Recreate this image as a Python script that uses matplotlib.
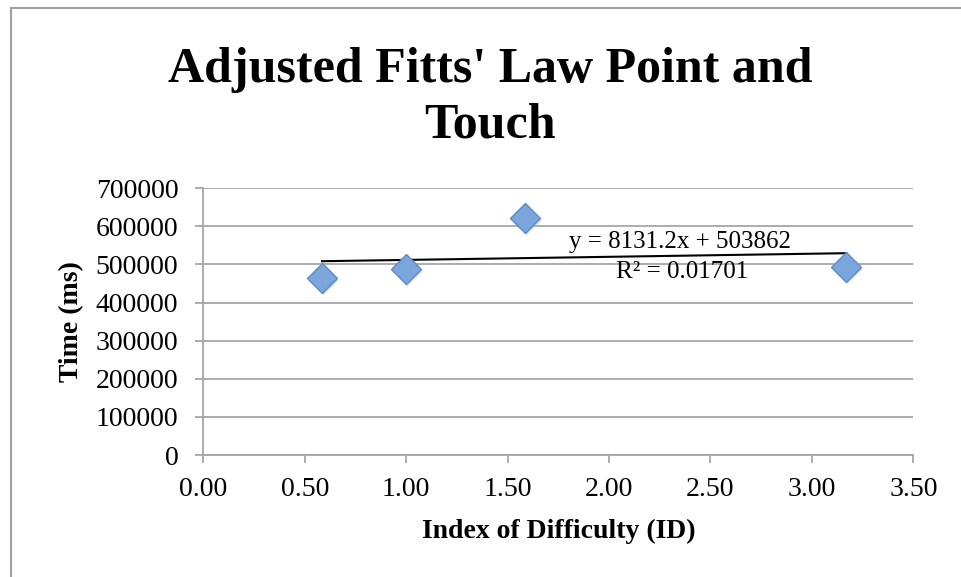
"""Adjusted Fitts' Law scatter with linear trendline (Excel-style)."""

import matplotlib

matplotlib.use("Agg")
import matplotlib.pyplot as plt
import matplotlib.transforms as mtransforms
import numpy as np
from matplotlib.lines import Line2D
from matplotlib.ticker import FormatStrFormatter, MultipleLocator

# Data
id_values = [0.585, 1.0, 1.585, 3.17]
time_ms = [465000, 488000, 621000, 493000]
trend_slope = 8131.2
trend_intercept = 503862
r_squared = "0.01701"

title = "Adjusted Fitts' Law Point and\nTouch"
x_label = "Index of Difficulty (ID)"
y_label = "Time (ms)"

SERIF = "Liberation Serif"
GRID = "#a6a6a6"

plt.rcParams["font.family"] = [SERIF, "DejaVu Serif"]

fig = plt.figure(figsize=(9.61, 5.77), dpi=100)
ax = fig.add_axes([0.2116, 0.2114, 0.7388, 0.4623])

# Chart frame (only left and top edges are visible in the crop)
fig.add_artist(Line2D([0.0114, 0.0114], [0, 0.987], transform=fig.transFigure,
                      color="#a0a0a0", lw=1.5))
fig.add_artist(Line2D([0.0114, 1.0], [0.987, 0.987], transform=fig.transFigure,
                      color="#a0a0a0", lw=1.5))

# Trendline over the data range
xs = np.array([min(id_values), max(id_values)])
ax.plot(xs, trend_slope * xs + trend_intercept, color="black", lw=1.5, zorder=3)

# Shadow then markers
shadow = ax.transData + mtransforms.ScaledTranslation(1 / 100, -2 / 100, fig.dpi_scale_trans)
ax.plot(id_values, time_ms, linestyle="none", marker="D", ms=15,
        markerfacecolor="#c8c8c8", markeredgecolor="none", alpha=0.5,
        transform=shadow, zorder=3.5)
ax.plot(id_values, time_ms, linestyle="none", marker="D", ms=15,
        markerfacecolor="#7ba6dc", markeredgecolor="#5b8bc9", markeredgewidth=1,
        zorder=4)

ax.text(2.35, 559000, f"y = {trend_slope}x + {trend_intercept}", ha="center",
        va="center", fontsize=18, zorder=5)
ax.text(2.36, 480000, f"R² = {r_squared}", ha="center", va="center",
        fontsize=18, zorder=5)

ax.set_xlim(0, 3.5)
ax.set_ylim(0, 700000)
ax.xaxis.set_major_locator(MultipleLocator(0.5))
ax.yaxis.set_major_locator(MultipleLocator(100000))
ax.xaxis.set_major_formatter(FormatStrFormatter("%.2f"))
ax.yaxis.set_major_formatter(FormatStrFormatter("%d"))
ax.grid(axis="y", color=GRID, lw=1.3)
ax.set_axisbelow(True)
for side in ("top", "right"):
    ax.spines[side].set_visible(False)
for side in ("left", "bottom"):
    ax.spines[side].set_color(GRID)
    ax.spines[side].set_linewidth(1.3)
ax.tick_params(axis="both", colors=GRID, length=6, width=1.3, labelsize=20,
               labelcolor="black")
ax.tick_params(axis="x", pad=10)
ax.tick_params(axis="y", pad=12)

ax.set_xlabel(x_label, fontsize=20, fontweight="bold", labelpad=12)
ax.set_ylabel(y_label, fontsize=20, fontweight="bold", labelpad=8)

# va="baseline" on multi-line text anchors the last line's baseline
fig.text(0.51, 0.761, title, ha="center", va="baseline", fontsize=36,
         fontweight="bold", linespacing=1.28)

fig.savefig("out.png", dpi=100)
